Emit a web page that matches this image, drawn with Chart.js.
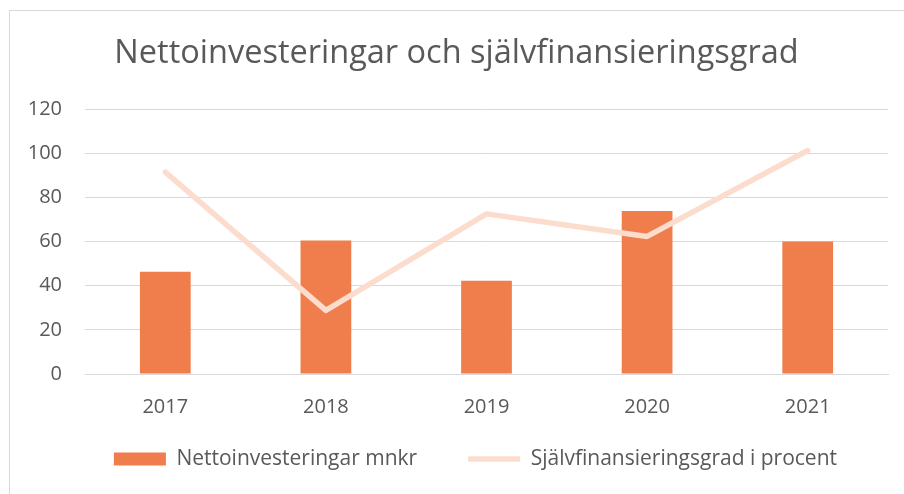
<!DOCTYPE html>
<html>
<head>
<meta charset="utf-8">
<script src="https://cdn.jsdelivr.net/npm/chart.js@4/dist/chart.umd.min.js"></script>
<style>
  html, body { margin: 0; padding: 0; background: #fff; }
  #frame { position: absolute; left: 9px; top: 10px; width: 1000px; height: 600px; border: 1px solid #d9d9d9; }
  #wrap { position: absolute; left: 0; top: 0; width: 904px; height: 494px; }
</style>
</head>
<body>
<div id="frame"></div>
<div id="wrap"><canvas id="chart"></canvas></div>
<script>
var years = ['2017', '2018', '2019', '2020', '2021'];
var nettoinvesteringar = [46.3, 60.5, 42.2, 73.8, 60];
var sjalvfinansiering = [91.4, 28.8, 72.5, 62.3, 101.2];
var yTicks = [0, 20, 40, 60, 80, 100, 120];

var textColor = '#595959';
var gridColor = '#d9d9d9';

var ctx = document.getElementById('chart').getContext('2d');
var chart = new Chart(ctx, {
    type: 'bar',
    data: {
        labels: years,
        datasets: [{
            type: 'bar',
            label: 'Nettoinvesteringar mnkr',
            data: nettoinvesteringar,
            backgroundColor: '#ef7e4c',
            borderWidth: 0,
            categoryPercentage: 1,
            barPercentage: 0.316,
            pointStyle: 'rect',
            order: 1
        }, {
            type: 'line',
            label: 'Självfinansieringsgrad i procent',
            data: sjalvfinansiering,
            borderColor: '#fcdccd',
            backgroundColor: '#fcdccd',
            borderWidth: 5.5,
            borderCapStyle: 'round',
            borderJoinStyle: 'round',
            pointRadius: 0,
            pointHoverRadius: 0,
            pointStyle: 'line',
            tension: 0,
            order: 0
        }]
    },
    options: {
        responsive: true,
        maintainAspectRatio: false,
        animation: false,
        layout: { padding: { left: 25, right: 16, top: 0, bottom: 14.5 } },
        scales: {
            x: {
                grid: { display: false },
                border: { color: gridColor, width: 1 },
                // mirror keeps the labels from being clipped to the (shrunk) axis box
                ticks: { color: textColor, mirror: true, padding: -45, font: { family: 'Open Sans', size: 20 } },
                afterFit: function (scale) { scale.height = 23.5; }
            },
            y: {
                min: 0,
                max: 120,
                afterBuildTicks: function (scale) {
                    scale.ticks = yTicks.map(function (v) { return { value: v }; });
                },
                grid: { color: gridColor, lineWidth: 1, drawTicks: false },
                border: { display: false },
                ticks: { color: textColor, padding: 23, font: { family: 'Open Sans', size: 20 } },
                afterFit: function (scale) { scale.width = 60; }
            }
        },
        plugins: {
            title: {
                display: true,
                text: 'Nettoinvesteringar och självfinansieringsgrad',
                color: textColor,
                font: { family: 'Open Sans', size: 32.5, weight: 'normal' },
                padding: { top: 34.5, bottom: 35.5 }
            },
            legend: {
                position: 'bottom',
                align: 'end',
                labels: {
                    usePointStyle: true,
                    pointStyleWidth: 52,
                    boxHeight: 13,
                    padding: 51,
                    color: textColor,
                    font: { family: 'Open Sans', size: 21 },
                    sort: function (a, b) { return a.datasetIndex - b.datasetIndex; }
                }
            },
            tooltip: { enabled: false }
        }
    }
});
</script>
</body>
</html>
